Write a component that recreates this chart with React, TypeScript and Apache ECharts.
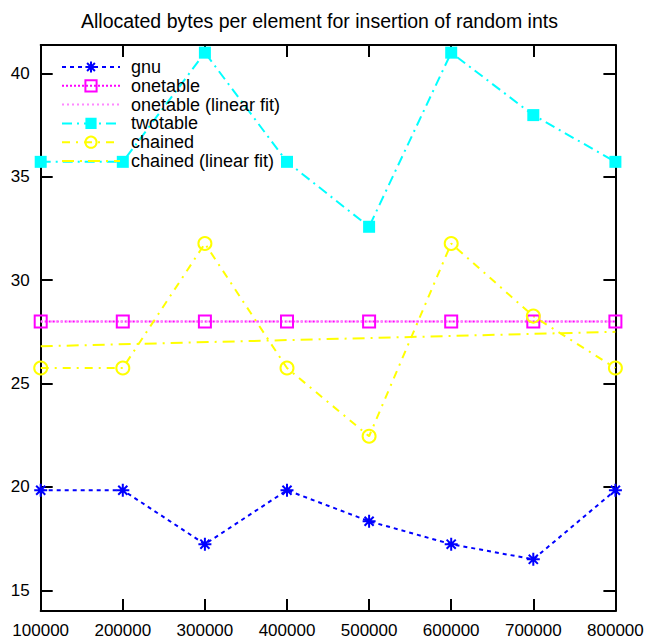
import React, { useEffect, useRef } from 'react';
import * as echarts from 'echarts';

const xValues = [100000, 200000, 300000, 400000, 500000, 600000, 700000, 800000];
const gnu = [19.84, 19.84, 17.23, 19.84, 18.34, 17.23, 16.5, 19.84];
const onetable = [28, 28, 28, 28, 28, 28, 28, 28];
const twotable = [35.72, 35.72, 41.0, 35.72, 32.58, 41.0, 37.98, 35.72];
const chained = [25.75, 25.75, 31.77, 25.75, 22.45, 31.77, 28.26, 25.75];
const fitX = [100000, 800000];
const onetableFit = [28, 28];
const chainedFit = [26.8, 27.5];
const yTicks = [15, 20, 25, 30, 35, 40];
const xTicks = [100000, 200000, 300000, 400000, 500000, 600000, 700000, 800000];

const FONT = "'Liberation Sans', Arial, sans-serif";
const ASTERISK = 'path://M0,-10L0,10M-10,0L10,0M-7,-7L7,7M-7,7L7,-7';

function pairs(xs: number[], ys: number[]) {
  return xs.map((x, i) => [x, ys[i]]);
}

export default function App() {
  const ref = useRef<HTMLDivElement>(null);
  useEffect(() => {
    if (!ref.current) return;
    const chart = echarts.init(ref.current, undefined, { renderer: 'svg' });
    const axisCommon = {
      axisLine: { show: true, onZero: false, lineStyle: { color: '#000', width: 2 } },
      splitLine: { show: false },
    };
    const noSymbol = { color: 'rgba(0,0,0,0)', borderColor: 'rgba(0,0,0,0)', borderWidth: 0 };
    chart.setOption({
      animation: false,
      backgroundColor: '#fff',
      title: {
        text: 'Allocated bytes per element for insertion of random ints',
        left: 76,
        top: 6,
        textStyle: { fontSize: 19.5, fontWeight: 'normal', color: '#000', fontFamily: FONT },
      },
      legend: {
        orient: 'vertical',
        left: 61,
        top: 58,
        padding: 0,
        itemWidth: 58,
        itemHeight: 14,
        itemGap: 0.8,
        textStyle: { fontSize: 18, color: '#000', fontFamily: FONT, padding: [0, 0, 0, 6] },
        data: [
          'gnu',
          'onetable',
          { name: 'onetable (linear fit)', itemStyle: noSymbol },
          'twotable',
          'chained',
          { name: 'chained (linear fit)', itemStyle: noSymbol },
        ],
      },
      grid: { left: 40.7, right: 35.6, top: 45, bottom: 32, containLabel: false },
      xAxis: [
        {
          ...axisCommon,
          type: 'value',
          min: 100000,
          max: 800000,
          interval: 100000,
          position: 'bottom',
          axisTick: { show: true, inside: true, length: 12, lineStyle: { color: '#000', width: 2 }, customValues: xTicks },
          axisLabel: {
            show: true,
            margin: 11,
            fontSize: 17,
            color: '#000',
            fontFamily: FONT,
            customValues: xTicks,
            formatter: (v: number) => String(v),
          },
        },
        {
          ...axisCommon,
          type: 'value',
          min: 100000,
          max: 800000,
          interval: 100000,
          position: 'top',
          axisTick: { show: true, inside: true, length: 12, lineStyle: { color: '#000', width: 2 }, customValues: xTicks },
          axisLabel: { show: false },
        },
      ],
      yAxis: [
        {
          ...axisCommon,
          type: 'value',
          min: 14,
          max: 41.37,
          position: 'left',
          axisTick: { show: true, inside: true, length: 12, lineStyle: { color: '#000', width: 2 }, customValues: yTicks },
          axisLabel: {
            show: true,
            margin: 11,
            fontSize: 17,
            color: '#000',
            fontFamily: FONT,
            customValues: yTicks,
          },
        },
        {
          ...axisCommon,
          type: 'value',
          min: 14,
          max: 41.37,
          position: 'right',
          axisTick: { show: true, inside: true, length: 12, lineStyle: { color: '#000', width: 2 }, customValues: yTicks },
          axisLabel: { show: false },
        },
      ],
      series: [
        {
          name: 'gnu',
          type: 'line',
          clip: false,
          data: pairs(xValues, gnu),
          symbol: ASTERISK,
          symbolSize: 13,
          itemStyle: { color: '#0000ff', borderColor: '#0000ff', borderWidth: 2 },
          lineStyle: { color: '#0000ff', width: 2, type: [4, 4] },
        },
        {
          name: 'onetable',
          type: 'line',
          clip: false,
          data: pairs(xValues, onetable),
          symbol: 'rect',
          symbolSize: 12,
          itemStyle: { color: 'rgba(0,0,0,0)', borderColor: '#ff00ff', borderWidth: 2 },
          lineStyle: { color: '#ff00ff', width: 2, type: [2, 2] },
        },
        {
          name: 'onetable (linear fit)',
          type: 'line',
          clip: false,
          data: pairs(fitX, onetableFit),
          symbol: 'none',
          itemStyle: { color: '#ff88ff' },
          lineStyle: { color: '#ff88ff', width: 2, type: [2, 3] },
        },
        {
          name: 'twotable',
          type: 'line',
          clip: false,
          data: pairs(xValues, twotable),
          symbol: 'rect',
          symbolSize: 12,
          itemStyle: { color: '#00ffff' },
          lineStyle: { color: '#00ffff', width: 2, type: [10, 5, 2, 5] },
        },
        {
          name: 'chained',
          type: 'line',
          clip: false,
          data: pairs(xValues, chained),
          symbol: 'circle',
          symbolSize: 13,
          itemStyle: { color: 'rgba(0,0,0,0)', borderColor: '#ffff00', borderWidth: 2 },
          lineStyle: { color: '#ffff00', width: 2, type: [8, 6, 2, 6] },
        },
        {
          name: 'chained (linear fit)',
          type: 'line',
          clip: false,
          data: pairs(fitX, chainedFit),
          symbol: 'none',
          itemStyle: { color: '#ffff00' },
          lineStyle: { color: '#ffff00', width: 2, type: [12, 6, 2, 6] },
        },
      ],
    });
    return () => chart.dispose();
  }, []);
  return (
    <div
      ref={ref}
      style={{ position: 'fixed', left: 0, top: 0, width: 651, height: 643, background: '#fff' }}
    />
  );
}
